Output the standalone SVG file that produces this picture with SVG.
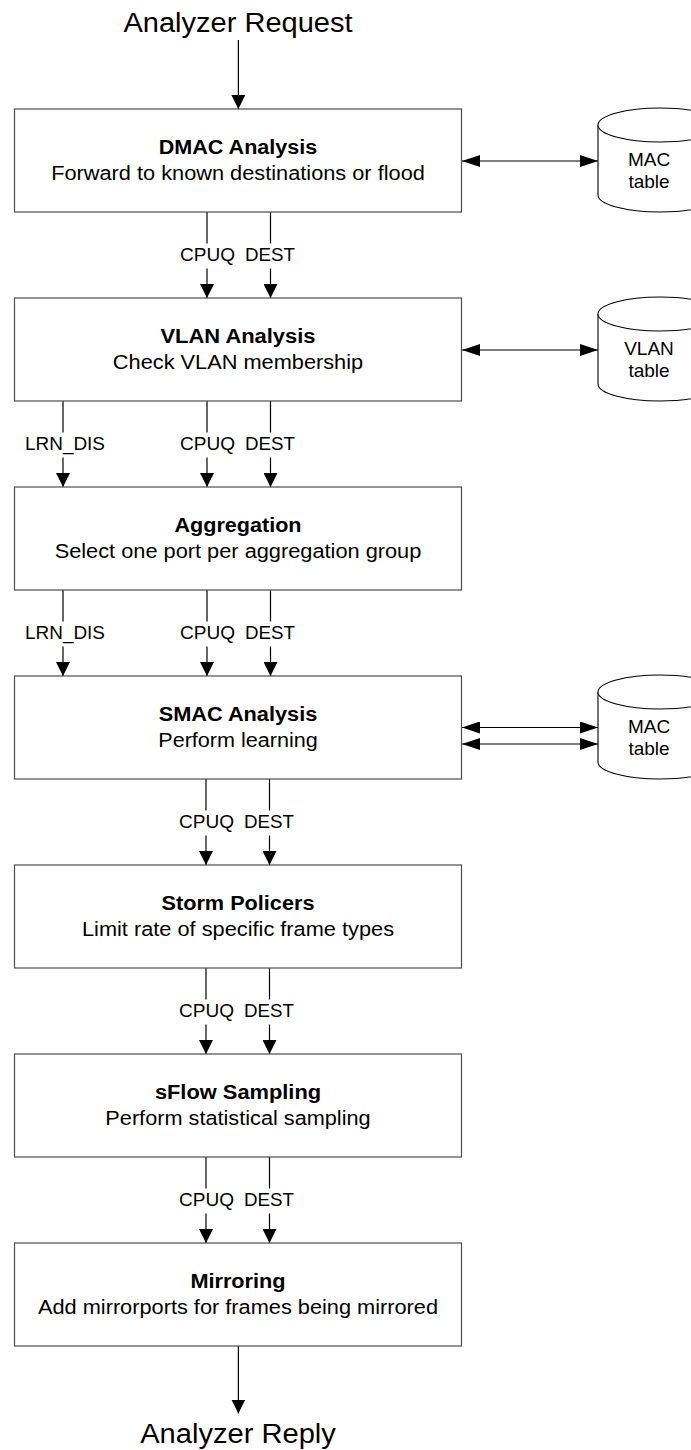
<svg xmlns="http://www.w3.org/2000/svg" width="691" height="1450" viewBox="0 0 691 1450">
<style>
text{font-family:"Liberation Sans",Arial,sans-serif;fill:#000;text-anchor:middle}
.t{font-size:27px}
.b{font-size:20px;font-weight:bold}
.r{font-size:20px}
.l{font-size:18px}
.c{font-size:19px}
.box{fill:#fff;stroke:#4d4d4d;stroke-width:1.2}
.cyl{fill:#fff;stroke:#000;stroke-width:1.1}
.ln{fill:none;stroke:#000;stroke-width:1.2}
.v{marker-end:url(#av)}
.h{marker-start:url(#ah);marker-end:url(#ah)}
</style>
<defs>
<marker id="av" markerUnits="userSpaceOnUse" markerWidth="14" markerHeight="14" refX="14" refY="7" orient="auto"><path d="M0,0 L14,7 L0,14 Z" fill="#000"/></marker>
<marker id="ah" markerUnits="userSpaceOnUse" markerWidth="18" markerHeight="12" refX="18" refY="6" orient="auto-start-reverse"><path d="M0,0 L18,6 L0,12 Z" fill="#000"/></marker>
</defs>

<g id="connectors">
<path class="ln v" d="M238.4,40 V109"/>
<path class="ln h" d="M462,161 H598"/>
<path class="ln h" d="M462,350 H598"/>
<path class="ln h" d="M462,727.5 H598"/>
<path class="ln h" d="M462,744 H598"/>
<!-- DMAC -> VLAN -->
<path class="ln" d="M207,212 V243.5"/><path class="ln v" d="M207,268.5 V298"/>
<path class="ln" d="M270.5,212 V243.5"/><path class="ln v" d="M270.5,268.5 V298"/>
<text class="l" x="207.5" y="260.5" textLength="55" lengthAdjust="spacingAndGlyphs">CPUQ</text>
<text class="l" x="270" y="260.5" textLength="50" lengthAdjust="spacingAndGlyphs">DEST</text>
<!-- VLAN -> Aggregation -->
<path class="ln" d="M63,401 V432.5"/><path class="ln v" d="M63,457.5 V487"/>
<path class="ln" d="M207,401 V432.5"/><path class="ln v" d="M207,457.5 V487"/>
<path class="ln" d="M270.5,401 V432.5"/><path class="ln v" d="M270.5,457.5 V487"/>
<text class="l" x="65" y="449.5" textLength="80" lengthAdjust="spacingAndGlyphs">LRN_DIS</text>
<text class="l" x="207.5" y="449.5" textLength="55" lengthAdjust="spacingAndGlyphs">CPUQ</text>
<text class="l" x="270" y="449.5" textLength="50" lengthAdjust="spacingAndGlyphs">DEST</text>
<!-- Aggregation -> SMAC -->
<path class="ln" d="M63,590 V621.5"/><path class="ln v" d="M63,646.5 V676"/>
<path class="ln" d="M207,590 V621.5"/><path class="ln v" d="M207,646.5 V676"/>
<path class="ln" d="M270.5,590 V621.5"/><path class="ln v" d="M270.5,646.5 V676"/>
<text class="l" x="65" y="638.5" textLength="80" lengthAdjust="spacingAndGlyphs">LRN_DIS</text>
<text class="l" x="207.5" y="638.5" textLength="55" lengthAdjust="spacingAndGlyphs">CPUQ</text>
<text class="l" x="270" y="638.5" textLength="50" lengthAdjust="spacingAndGlyphs">DEST</text>
<!-- SMAC -> Storm -->
<path class="ln" d="M206,779 V810.5"/><path class="ln v" d="M206,835.5 V865"/>
<path class="ln" d="M269.5,779 V810.5"/><path class="ln v" d="M269.5,835.5 V865"/>
<text class="l" x="206.5" y="827.5" textLength="55" lengthAdjust="spacingAndGlyphs">CPUQ</text>
<text class="l" x="269" y="827.5" textLength="50" lengthAdjust="spacingAndGlyphs">DEST</text>
<!-- Storm -> sFlow -->
<path class="ln" d="M206,968 V999.5"/><path class="ln v" d="M206,1024.5 V1054"/>
<path class="ln" d="M269.5,968 V999.5"/><path class="ln v" d="M269.5,1024.5 V1054"/>
<text class="l" x="206.5" y="1016.5" textLength="55" lengthAdjust="spacingAndGlyphs">CPUQ</text>
<text class="l" x="269" y="1016.5" textLength="50" lengthAdjust="spacingAndGlyphs">DEST</text>
<!-- sFlow -> Mirroring -->
<path class="ln" d="M206,1157 V1188.5"/><path class="ln v" d="M206,1213.5 V1243"/>
<path class="ln" d="M269.5,1157 V1188.5"/><path class="ln v" d="M269.5,1213.5 V1243"/>
<text class="l" x="206.5" y="1205.5" textLength="55" lengthAdjust="spacingAndGlyphs">CPUQ</text>
<text class="l" x="269" y="1205.5" textLength="50" lengthAdjust="spacingAndGlyphs">DEST</text>
<path class="ln v" d="M238.4,1346 V1413.5"/>
</g>

<g id="request"><text class="t" x="238" y="31.7" textLength="229" lengthAdjust="spacingAndGlyphs">Analyzer Request</text></g>
<g id="reply"><text class="t" x="238" y="1443.3" textLength="195.7" lengthAdjust="spacingAndGlyphs">Analyzer Reply</text></g>

<g id="dmac">
<rect class="box" x="14.5" y="109" width="447" height="103"/>
<text class="b" x="238" y="153.5" textLength="158.6" lengthAdjust="spacingAndGlyphs">DMAC Analysis</text>
<text class="r" x="238" y="179.7" textLength="373.7" lengthAdjust="spacingAndGlyphs">Forward to known destinations or flood</text>
</g>
<g id="vlan">
<rect class="box" x="14.5" y="298" width="447" height="103"/>
<text class="b" x="238" y="342.5" textLength="155.1" lengthAdjust="spacingAndGlyphs">VLAN Analysis</text>
<text class="r" x="238" y="368.7" textLength="250.3" lengthAdjust="spacingAndGlyphs">Check VLAN membership</text>
</g>
<g id="aggregation">
<rect class="box" x="14.5" y="487" width="447" height="103"/>
<text class="b" x="238" y="531.5" textLength="127" lengthAdjust="spacingAndGlyphs">Aggregation</text>
<text class="r" x="238" y="557.7" textLength="366.7" lengthAdjust="spacingAndGlyphs">Select one port per aggregation group</text>
</g>
<g id="smac">
<rect class="box" x="14.5" y="676" width="447" height="103"/>
<text class="b" x="238" y="720.5" textLength="158.6" lengthAdjust="spacingAndGlyphs">SMAC Analysis</text>
<text class="r" x="238" y="746.7" textLength="159.5" lengthAdjust="spacingAndGlyphs">Perform learning</text>
</g>
<g id="storm">
<rect class="box" x="14.5" y="865" width="447" height="103"/>
<text class="b" x="238" y="909.5" textLength="152.9" lengthAdjust="spacingAndGlyphs">Storm Policers</text>
<text class="r" x="238" y="935.7" textLength="312.1" lengthAdjust="spacingAndGlyphs">Limit rate of specific frame types</text>
</g>
<g id="sflow">
<rect class="box" x="14.5" y="1054" width="447" height="103"/>
<text class="b" x="238" y="1098.5" textLength="166.2" lengthAdjust="spacingAndGlyphs">sFlow Sampling</text>
<text class="r" x="238" y="1124.7" textLength="265.3" lengthAdjust="spacingAndGlyphs">Perform statistical sampling</text>
</g>
<g id="mirroring">
<rect class="box" x="14.5" y="1243" width="447" height="103"/>
<text class="b" x="238" y="1287.5" textLength="95.2" lengthAdjust="spacingAndGlyphs">Mirroring</text>
<text class="r" x="238" y="1313.7" textLength="400.1" lengthAdjust="spacingAndGlyphs">Add mirrorports for frames being mirrored</text>
</g>

<g id="mac-table-1">
<path class="cyl" d="M598,125 V195 A62,17 0 0 0 722,195 V125 A62,17 0 0 0 598,125 Z"/>
<path class="cyl" fill="none" d="M598,125 A62,17 0 0 0 722,125"/>
<text class="c" x="649" y="165.5">MAC</text>
<text class="c" x="649" y="187.5">table</text>
</g>
<g id="vlan-table">
<path class="cyl" d="M598,314 V384 A62,17 0 0 0 722,384 V314 A62,17 0 0 0 598,314 Z"/>
<path class="cyl" fill="none" d="M598,314 A62,17 0 0 0 722,314"/>
<text class="c" x="649" y="354.5">VLAN</text>
<text class="c" x="649" y="376.5">table</text>
</g>
<g id="mac-table-2">
<path class="cyl" d="M598,692 V762 A62,17 0 0 0 722,762 V692 A62,17 0 0 0 598,692 Z"/>
<path class="cyl" fill="none" d="M598,692 A62,17 0 0 0 722,692"/>
<text class="c" x="649" y="732.5">MAC</text>
<text class="c" x="649" y="754.5">table</text>
</g>
</svg>
